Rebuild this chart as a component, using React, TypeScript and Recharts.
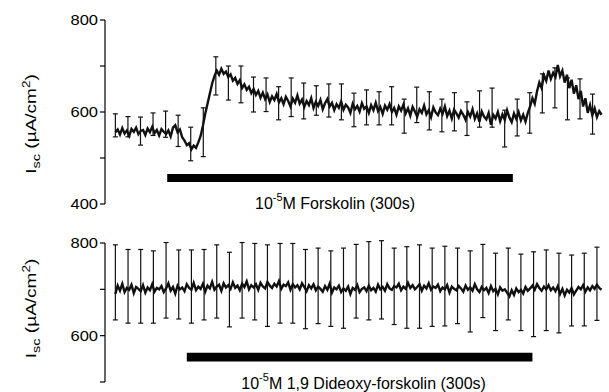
import React from 'react';
import { ComposedChart, Line, Scatter, ErrorBar, XAxis, YAxis, ReferenceArea } from 'recharts';

// ---------- data ----------
const SAMPLE_STEP_S = 2; // one trace sample every 2 s
const TIME_DOMAIN: [number, number] = [-9, 425];

// Forskolin trace, Isc (µA/cm²), t = 0, 2, 4 ... 422 s
const forskolinTrace = [
  556, 562, 551, 565, 553, 560, 548, 563, 557, 566,
  552, 559, 561, 550, 564, 556, 568, 554, 561, 549,
  563, 557, 552, 560, 547, 566, 571, 556, 562, 545,
  538, 528, 532, 519, 527, 522, 534, 548, 570, 596,
  618, 640, 662, 678, 690, 681, 694, 683, 688, 676,
  682, 668, 674, 661, 669, 652, 660, 648, 655, 641,
  650, 637, 646, 631, 642, 628, 638, 622, 634, 626,
  639, 621, 630, 617, 633, 624, 612, 629, 620, 636,
  618, 627, 611, 624, 615, 630, 609, 622, 613, 626,
  606, 619, 628, 612, 620, 604, 617, 609, 623, 605,
  616, 610, 598, 618, 606, 613, 601, 619, 607, 612,
  598, 615, 604, 620, 602, 611, 596, 614, 605, 617,
  600, 609, 594, 612, 603, 616, 597, 608, 592, 611,
  601, 590, 606, 598, 614, 595, 604, 589, 610, 599,
  593, 607, 596, 612, 591, 603, 586, 605, 597, 588,
  602, 594, 583, 600, 590, 606, 585, 597, 579, 601,
  590, 584, 598, 572, 594, 586, 600, 580, 595, 583,
  604, 588, 578, 597, 585, 600, 582, 594, 579, 598,
  612, 630, 618, 645, 664, 652, 680, 668, 690, 672,
  685, 676, 702, 678, 690, 664, 681, 652, 670, 640,
  658, 628, 646, 612, 630, 598, 615, 593, 608, 589,
  602, 594,
];

// 1,9 Dideoxy-forskolin trace, t = 0, 2, 4 ... 422 s
const dideoxyTrace = [
  690, 708, 697, 712, 694, 703, 699, 710, 692, 705,
  701, 696, 709, 693, 704, 698, 711, 695, 703, 700,
  707, 694, 702, 713, 697, 705, 691, 708, 700, 704,
  696, 711, 703, 699, 714, 698, 706, 701, 712, 695,
  708, 702, 716, 699, 706, 710, 697, 713, 704, 709,
  701, 715, 703, 708, 698, 712, 705, 717, 700, 709,
  704, 711, 699, 714, 706, 702, 716, 708, 703, 712,
  706, 718, 701, 710, 707, 715, 699, 711, 704, 709,
  700, 713, 705, 696, 709, 702, 711, 698, 706, 701,
  695, 707, 699, 712, 693, 704, 700, 708, 694, 702,
  697, 706, 690, 703, 699, 709, 694, 701, 704, 696,
  708, 698, 703, 695, 710, 700, 705, 697, 711, 702,
  699, 707, 704, 712, 698, 706, 701, 714, 703, 709,
  700, 705, 711, 697, 708, 702, 713, 699, 706, 703,
  710, 696, 704, 700, 709, 693, 706, 701, 698, 707,
  702, 695, 708, 699, 704, 697, 711, 700, 694, 705,
  698, 703, 692, 707, 696, 701, 689, 704, 697, 700,
  693, 685, 698, 688, 702, 694, 699, 691, 705, 697,
  702, 708, 699, 711, 703, 697, 706, 700, 709, 698,
  704, 696, 707, 690, 701, 687, 699, 693, 703, 689,
  697, 705, 700, 709, 695, 704, 698, 707, 701, 710,
  703, 699,
];

// error bars (upper / lower ends), one every ~11 s
const ERR_STEP_TOP_S = 10.9;
const ERR_STEP_BOTTOM_S = 11;
const forskolinErrHigh = [596, 590, 589, 598, 602, 593, 567, 609, 720, 700, 700, 676, 674, 655, 674, 663, 657, 661, 661, 641, 648, 644, 655, 628, 654, 644, 628, 642, 622, 646, 652, 604, 628, 642, 683, 696, 674, 672, 639];
const forskolinErrLow = [546, 546, 528, 549, 545, 525, 494, 503, 637, 626, 620, 600, 601, 583, 590, 585, 593, 589, 583, 568, 572, 572, 572, 554, 577, 561, 557, 559, 549, 567, 567, 524, 548, 554, 598, 609, 583, 585, 552];
const dideoxyErrHigh = [796, 786, 786, 783, 801, 785, 785, 786, 796, 780, 801, 799, 796, 799, 799, 786, 789, 783, 789, 797, 803, 805, 789, 792, 796, 789, 793, 789, 783, 797, 778, 789, 776, 781, 785, 778, 774, 778, 791];
const dideoxyErrLow = [634, 627, 627, 627, 638, 636, 627, 634, 638, 619, 638, 634, 620, 627, 627, 615, 626, 620, 616, 638, 634, 636, 624, 616, 616, 620, 621, 626, 608, 639, 611, 634, 611, 598, 611, 606, 621, 621, 633];

// axes
const topTicks = [400, 500, 600, 700, 800];
const topTickLabels = ['400', '', '600', '', '800'];
const bottomTicks = [500, 600, 700, 800];
const bottomTickLabels = ['', '600', '', '800'];

// drug application bars (start s, end s, band low, band high)
const forskolinBar = { x1: 45, x2: 345, y1: 448, y2: 465 };
const dideoxyBar = { x1: 62, x2: 362, y1: 544, y2: 563 };

// ---------- helpers ----------
const FONT = '"Liberation Sans", Arial, Helvetica, sans-serif';

const toTrace = (vals: number[]) => vals.map((v, i) => ({ t: i * SAMPLE_STEP_S, v }));
const toErr = (hi: number[], lo: number[], step: number) =>
  hi.map((h, i) => ({ t: i * step, mid: (h + lo[i]) / 2, err: (h - lo[i]) / 2 }));

const makeTick = (ticks: number[], labels: string[]) => (props: any) => {
  const { x, y, payload } = props;
  const idx = ticks.indexOf(payload.value);
  const label = idx >= 0 ? labels[idx] : '';
  if (!label) return <g />;
  return (
    <g transform={`translate(${x},${y}) scale(1.18,1)`}>
      <text x={0} y={0} dy="0.36em" textAnchor="end" fontSize={14} fill="#000" fontFamily={FONT}>
        {label}
      </text>
    </g>
  );
};

const makeYLabel = (dy: number) => (props: any) => {
  const vb = props.viewBox || {};
  const cx = (vb.x || 0) + 36;
  const cy = (vb.y || 0) + (vb.height || 0) / 2 + dy;
  return (
    <text
      transform={`translate(${cx},${cy}) rotate(-90) scale(1.12,0.88)`}
      textAnchor="middle"
      fontSize={17}
      fill="#000"
      fontFamily={FONT}
    >
      <tspan>I</tspan>
      <tspan dy={4} fontSize={13}>sc</tspan>
      <tspan dy={-4}> (µA/cm</tspan>
      <tspan dy={-7} fontSize={12}>2</tspan>
      <tspan dy={7}>)</tspan>
    </text>
  );
};

const makeBarLabel = (name: string, dx: number) => (props: any) => {
  const vb = props.viewBox || {};
  const cx = (vb.x || 0) + (vb.width || 0) / 2 + dx;
  const by = (vb.y || 0) + (vb.height || 0) + 27;
  return (
    <text x={cx} y={by} textAnchor="middle" fontSize={16} fill="#000" fontFamily={FONT}>
      <tspan>10</tspan>
      <tspan dy={-8} fontSize={11}>-5</tspan>
      <tspan dy={8}>M {name} (300s)</tspan>
    </text>
  );
};

const NoDot = () => <g />;

interface PanelProps {
  trace: { t: number; v: number }[];
  err: { t: number; mid: number; err: number }[];
  domain: [number, number];
  ticks: number[];
  tickLabels: string[];
  bar: { x1: number; x2: number; y1: number; y2: number };
  barName: string;
  barDx: number;
  labelDy: number;
  height: number;
  margin: { top: number; right: number; bottom: number; left: number };
}

const Panel = (p: PanelProps) => (
  <ComposedChart width={609} height={p.height} data={p.trace} margin={p.margin}>
    <XAxis type="number" dataKey="t" domain={TIME_DOMAIN} hide allowDataOverflow />
    <YAxis
      type="number"
      domain={p.domain}
      ticks={p.ticks}
      width={105}
      interval={0}
      allowDataOverflow
      axisLine={{ stroke: '#000', strokeWidth: 1.2 }}
      tickLine={{ stroke: '#000', strokeWidth: 1.2 }}
      tickSize={5}
      tickMargin={2}
      tick={makeTick(p.ticks, p.tickLabels)}
      label={{ content: makeYLabel(p.labelDy) }}
    />
    <ReferenceArea
      x1={p.bar.x1}
      x2={p.bar.x2}
      y1={p.bar.y1}
      y2={p.bar.y2}
      fill="#000"
      fillOpacity={1}
      stroke="none"
      ifOverflow="visible"
      label={{ content: makeBarLabel(p.barName, p.barDx) }}
    />
    <Line
      type="linear"
      dataKey="v"
      stroke="#111"
      strokeWidth={2.4}
      strokeLinejoin="miter"
      dot={false}
      activeDot={false}
      isAnimationActive={false}
    />
    <Scatter data={p.err} dataKey="mid" shape={NoDot} isAnimationActive={false}>
      <ErrorBar dataKey="err" direction="y" width={2.5} stroke="#111" strokeWidth={1.2} isAnimationActive={false} />
    </Scatter>
  </ComposedChart>
);

export default function App() {
  const topTrace = toTrace(forskolinTrace);
  const bottomTrace = toTrace(dideoxyTrace);
  const topErr = toErr(forskolinErrHigh, forskolinErrLow, ERR_STEP_TOP_S);
  const bottomErr = toErr(dideoxyErrHigh, dideoxyErrLow, ERR_STEP_BOTTOM_S);
  return (
    <div style={{ position: 'absolute', left: 0, top: 0, width: 609, height: 392, background: '#fff', overflow: 'hidden' }}>
      <div style={{ position: 'absolute', left: 0, top: 0 }}>
        <Panel
          trace={topTrace}
          err={topErr}
          domain={[400, 800]}
          ticks={topTicks}
          tickLabels={topTickLabels}
          bar={forskolinBar}
          barName="Forskolin"
          barDx={-5}
          labelDy={12}
          height={220}
          margin={{ top: 20, right: 4, bottom: 16, left: 0 }}
        />
      </div>
      <div style={{ position: 'absolute', left: 0, top: 220 }}>
        <Panel
          trace={bottomTrace}
          err={bottomErr}
          domain={[500, 800]}
          ticks={bottomTicks}
          tickLabels={bottomTickLabels}
          bar={dideoxyBar}
          barName="1,9 Dideoxy-forskolin"
          barDx={4}
          labelDy={-4}
          height={172}
          margin={{ top: 23, right: 4, bottom: 10, left: 0 }}
        />
      </div>
    </div>
  );
}
